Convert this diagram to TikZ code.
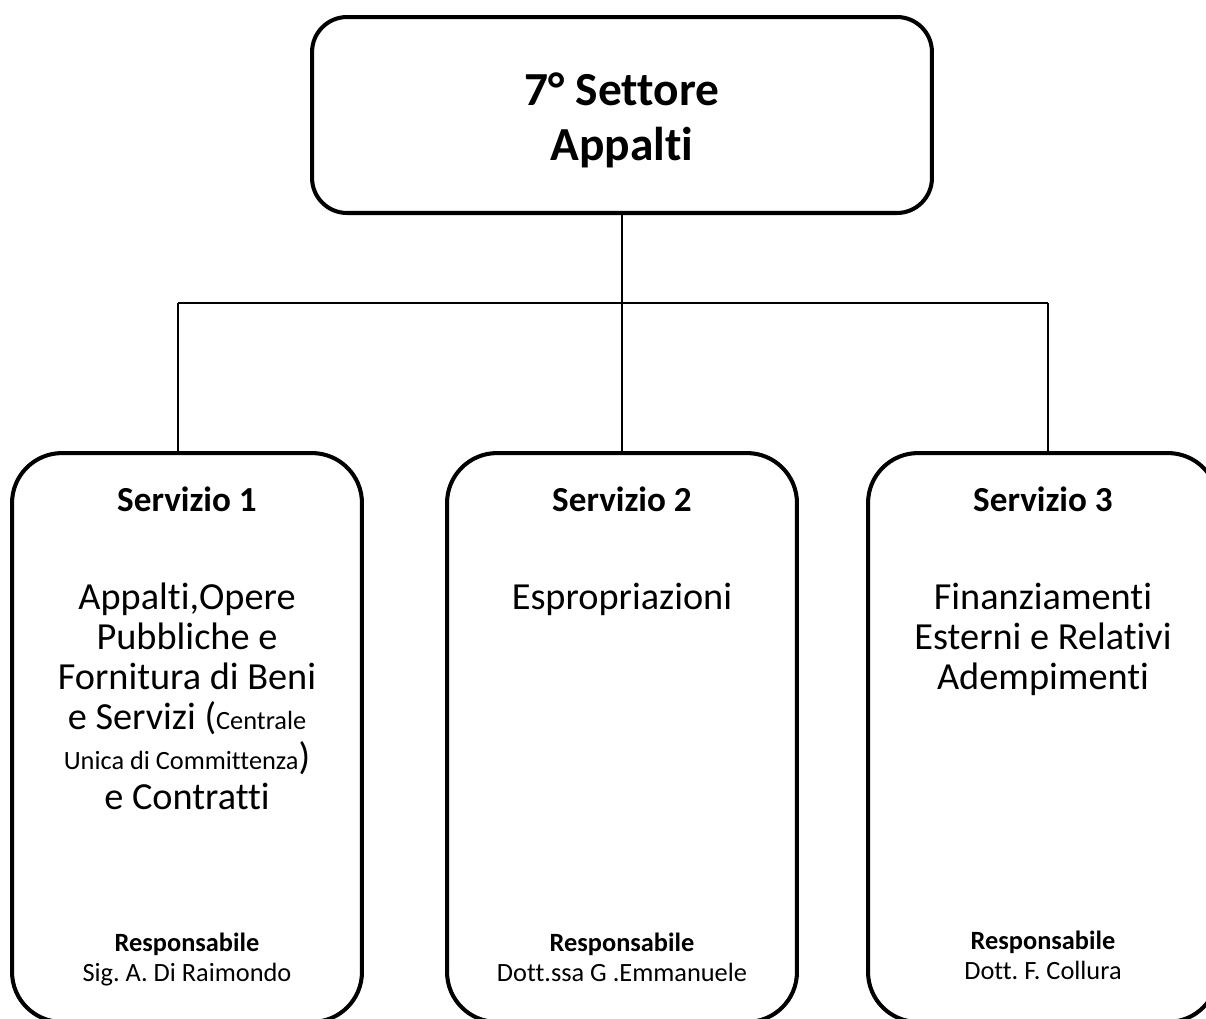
\documentclass[tikz,border=0pt]{standalone}
\usepackage{fontspec}
\setmainfont{Carlito}[Ligatures = NoCommon]
\frenchspacing
\usetikzlibrary{positioning}
\tikzstyle{settorebox} = [rectangle, rounded corners = 0.7cm, minimum width = 12.4cm, minimum height = 3.92cm,
draw = black, line width = 2.3pt, align = center, font = \fontsize{27}{31.5}\selectfont\bfseries]
\tikzstyle{serviziobox} = [rectangle, rounded corners = 1cm, minimum width = 7cm, minimum height = 11.38cm,
draw = black, line width = 2.3pt]
\tikzstyle{titolo} = [inner sep = 0pt, font = \fontsize{20}{24}\selectfont\bfseries]
\tikzstyle{compito} = [inner sep = 0pt, align = center, font = \fontsize{21.8}{22.8}\selectfont]
\tikzstyle{resp} = [inner sep = 0pt, align = center, font = \fontsize{15}{17}\selectfont]
\tikzstyle{link} = [line width = 1.1pt]
\newcommand{\piccolo}[1]{{\fontsize{15}{17}\selectfont #1}}

\begin{document}
\begin{tikzpicture}[x = 0.02cm, y = -0.02cm, node distance = 1cm]
\clip (0,0) rectangle (1206,1018);
\node (settore) [settorebox] at (622,115) {\rule{0pt}{25pt}7° Settore\\Appalti};
\node (s1) [serviziobox] at (187,737.5) {};
\node (s2) [serviziobox] at (622,737.5) {};
\node (s3) [serviziobox] at (1043,737.5) {};

\node (t1) [titolo, below = 0.7cm of s1.north] {Servizio 1};
\node (t2) [titolo, below = 0.7cm of s2.north] {Servizio 2};
\node (t3) [titolo, below = 0.7cm of s3.north] {Servizio 3};

\node (d1) [compito, below = 1.42cm of t1] {Appalti,Opere\\Pubbliche e\\Fornitura di Beni\\e Servizi (\piccolo{Centrale}\\\piccolo{Unica di Committenza})\\e Contratti};
\node (d2) [compito, below = 1.42cm of t2] {Espropriazioni};
\node (d3) [compito, below = 1.42cm of t3] {Finanziamenti\\Esterni e Relativi\\Adempimenti};

\node (r1) [resp, below = 9.64cm of s1.north] {\textbf{Responsabile}\\Sig. A. Di Raimondo};
\node (r2) [resp, below = 9.64cm of s2.north] {\textbf{Responsabile}\\Dott.ssa G .Emmanuele};
\node (r3) [resp, below = 9.6cm of s3.north] {\textbf{Responsabile}\\Dott. F. Collura};

\coordinate (bar1) at (178,303);
\coordinate (bar3) at (1048,303);
\draw[link] (settore) -- (s2);
\draw[link] (bar1) -- (bar3);
\draw[link] (bar1) -- (bar1 |- s1.north);
\draw[link] (bar3) -- (bar3 |- s3.north);
\end{tikzpicture}
\end{document}
